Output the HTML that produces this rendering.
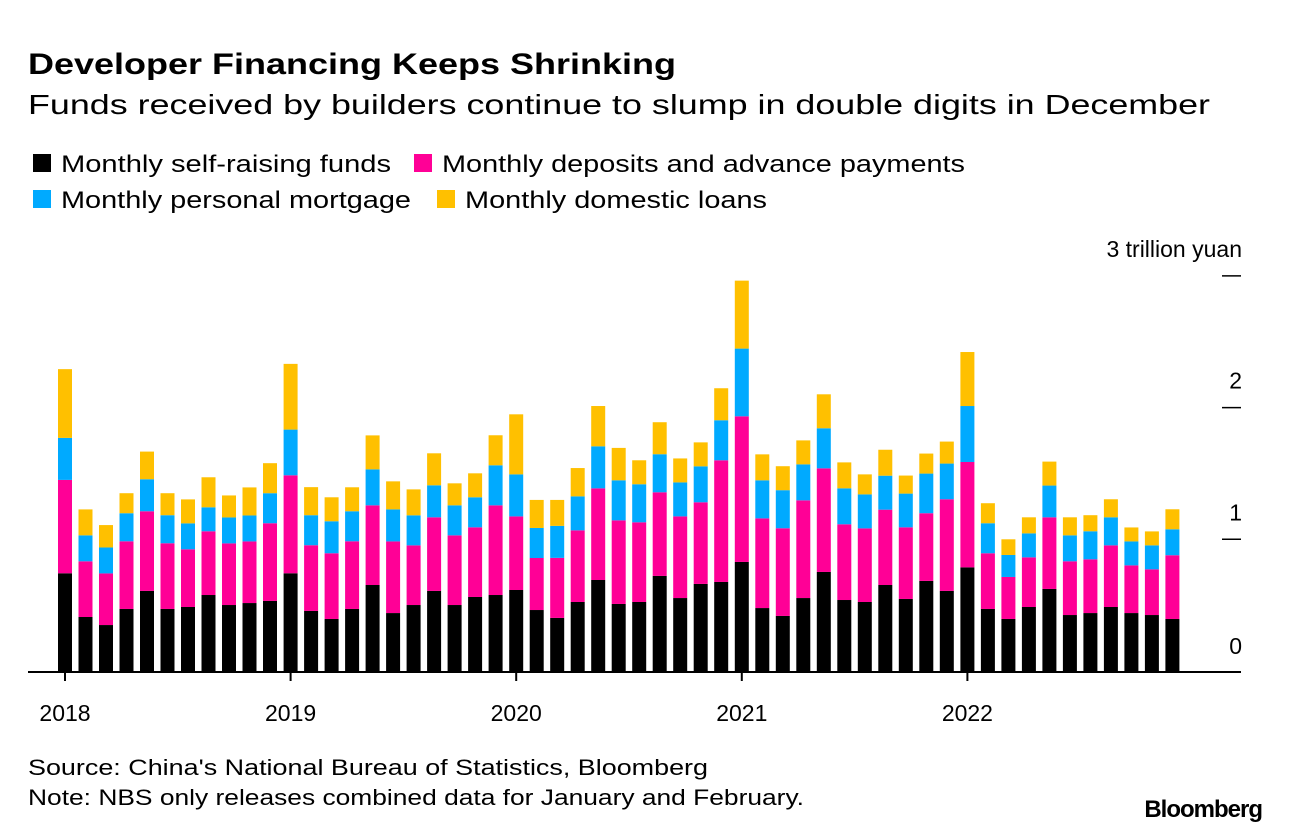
<!DOCTYPE html>
<html><head><meta charset="utf-8"><style>
html,body{margin:0;padding:0;background:#fff;}
svg{display:block;font-family:"Liberation Sans",Arial,sans-serif;}
</style></head><body>
<svg id="chart" width="1289" height="834" viewBox="0 0 1289 834" xmlns="http://www.w3.org/2000/svg">
<text x="28" y="74" font-size="30" font-weight="bold" textLength="648" lengthAdjust="spacingAndGlyphs">Developer Financing Keeps Shrinking</text>
<text x="28" y="114" font-size="28" textLength="1182" lengthAdjust="spacingAndGlyphs">Funds received by builders continue to slump in double digits in December</text>
<g font-size="24">
<g><rect x="33" y="154" width="18" height="18" fill="#000"/><text x="61" y="172" textLength="330" lengthAdjust="spacingAndGlyphs">Monthly self-raising funds</text></g>
<g><rect x="414" y="154" width="18" height="18" fill="#ff0096"/><text x="442" y="172" textLength="523" lengthAdjust="spacingAndGlyphs">Monthly deposits and advance payments</text></g>
<g><rect x="33" y="190" width="18" height="18" fill="#00aaff"/><text x="61" y="208" textLength="350" lengthAdjust="spacingAndGlyphs">Monthly personal mortgage</text></g>
<g><rect x="437" y="190" width="18" height="18" fill="#ffc000"/><text x="465" y="208" textLength="302" lengthAdjust="spacingAndGlyphs">Monthly domestic loans</text></g>
</g>
<g id="bars"></g>
<g id="axes"></g>
<text x="28" y="775" font-size="22" textLength="680" lengthAdjust="spacingAndGlyphs">Source: China's National Bureau of Statistics, Bloomberg</text>
<text x="28" y="805" font-size="22" textLength="776" lengthAdjust="spacingAndGlyphs">Note: NBS only releases combined data for January and February.</text>
<text x="1262" y="817" font-size="24" font-weight="bold" text-anchor="end" letter-spacing="-1">Bloomberg</text>
</svg>
<script>
const years = ["2018","2019","2020","2021","2022"];
const yTicks = [0,1,2,3];
const selfRaising = [0.742,0.41,0.349,0.471,0.608,0.471,0.486,0.577,0.501,0.516,0.532,
0.742,0.456,0.395,0.471,0.653,0.44,0.501,0.608,0.501,0.562,0.577,
0.615,0.463,0.403,0.524,0.691,0.509,0.524,0.722,0.554,0.661,0.676,
0.828,0.478,0.418,0.554,0.752,0.539,0.524,0.653,0.547,0.684,0.608,
0.787,0.471,0.395,0.486,0.623,0.425,0.44,0.486,0.44,0.425,0.395];
const deposits = [0.709,0.423,0.392,0.514,0.605,0.499,0.438,0.484,0.468,0.468,0.59,
0.744,0.499,0.499,0.514,0.605,0.544,0.453,0.559,0.529,0.529,0.681,
0.559,0.395,0.456,0.544,0.696,0.635,0.605,0.635,0.62,0.62,0.924,
1.106,0.681,0.666,0.742,0.787,0.575,0.559,0.572,0.544,0.514,0.696,
0.8,0.423,0.319,0.377,0.544,0.408,0.408,0.468,0.362,0.347,0.484];
const mortgage = [0.319,0.197,0.197,0.213,0.243,0.213,0.197,0.182,0.197,0.197,0.228,
0.347,0.228,0.243,0.228,0.273,0.243,0.228,0.243,0.228,0.228,0.304,
0.319,0.228,0.243,0.258,0.319,0.304,0.289,0.289,0.258,0.273,0.304,
0.514,0.289,0.289,0.273,0.304,0.273,0.258,0.258,0.256,0.301,0.271,
0.425,0.228,0.167,0.182,0.241,0.197,0.213,0.213,0.182,0.182,0.197];
const domesticLoans = [0.522,0.197,0.17,0.152,0.21,0.167,0.182,0.228,0.167,0.213,0.228,
0.499,0.213,0.182,0.182,0.258,0.213,0.197,0.243,0.167,0.182,0.228,
0.456,0.213,0.197,0.215,0.306,0.246,0.182,0.243,0.182,0.182,0.243,
0.516,0.197,0.182,0.182,0.258,0.197,0.152,0.197,0.137,0.152,0.167,
0.41,0.152,0.119,0.122,0.182,0.137,0.122,0.137,0.106,0.106,0.152];
const seriesList = [selfRaising, deposits, mortgage, domesticLoans];
const seriesNames = ["self-raising","deposits","mortgage","domestic-loans"];
const colors = ["#000000","#ff0096","#00aaff","#ffc000"];

const NS = "http://www.w3.org/2000/svg";
const y0 = 671, pxPer = 131.7;
function yScale(v){ return y0 - v*pxPer; }
const x0 = 65, yearW = 225.6, barStep = 20.5, barW = 14;
function xScale(i){ const yr = Math.floor(i/11), k = i%11; return x0 + yr*yearW + k*barStep; }

const barsG = document.getElementById('bars');
for (let i=0;i<selfRaising.length;i++){
  let cum = 0;
  for (let s=0;s<seriesList.length;s++){
    const v = seriesList[s][i];
    const r = document.createElementNS(NS,'rect');
    r.setAttribute('x', xScale(i)-barW/2);
    r.setAttribute('y', yScale(cum+v));
    r.setAttribute('width', barW);
    r.setAttribute('height', v*pxPer);
    r.setAttribute('fill', colors[s]);
    
    
    barsG.appendChild(r);
    cum += v;
  }
}
const ax = document.getElementById('axes');
function line(x1,y1,x2,y2,w,name){
  const l = document.createElementNS(NS,'line');
  l.setAttribute('x1',x1);l.setAttribute('y1',y1);l.setAttribute('x2',x2);l.setAttribute('y2',y2);
  l.setAttribute('stroke','#000');l.setAttribute('stroke-width',w);
  
  
  ax.appendChild(l);
}
line(28,672,1241,672,2,'x-axis-line');
years.forEach((yr,j)=>{
  const x = xScale(j*11);
  line(x,672,x,681,2,'x-tick');
  const t = document.createElementNS(NS,'text');
  t.setAttribute('x',x);t.setAttribute('y',721);t.setAttribute('font-size','23');t.setAttribute('text-anchor','middle');
  t.textContent = yr;
  
  
  ax.appendChild(t);
});
yTicks.forEach(v=>{
  const y = yScale(v);
  if (v>0) line(1222,y,1241,y,1.5,'y-tick');
  const t = document.createElementNS(NS,'text');
  t.setAttribute('x',1242);t.setAttribute('y',v===0?y-17:y-19);t.setAttribute('font-size','23');t.setAttribute('text-anchor','end');
  t.textContent = v===3 ? '3 trillion yuan' : String(v);
  
  
  ax.appendChild(t);
});
</script>
</body></html>
